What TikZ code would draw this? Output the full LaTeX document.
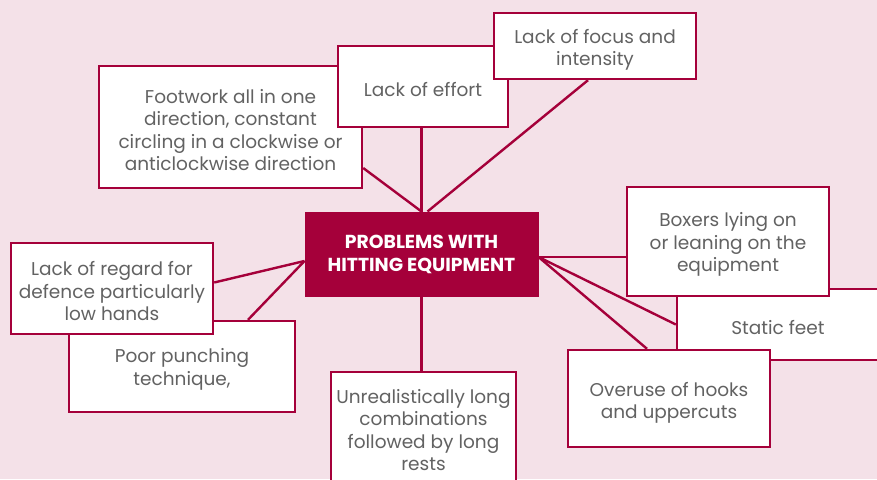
\documentclass[tikz,border=0pt]{standalone}
\usepackage{fontspec}
\setmainfont{Poppins}
\definecolor{bgpink}{HTML}{F4E1E8}
\definecolor{crim}{HTML}{A5003A}
\definecolor{txtgray}{HTML}{626262}
\pgfdeclarelayer{bg}
\pgfsetlayers{bg,main}
\tikzset{
  box/.style={draw=crim, line width=2.4pt, fill=white, inner sep=0pt},
  lbl/.style={text=txtgray, align=center, inner sep=0pt, yshift=-3pt,
    font=\fontsize{18.5}{22.5}\selectfont},
  hub/.style={fill=crim, draw=crim, line width=1pt, text=white, align=center,
    inner sep=0pt, font=\fontsize{18.8}{23}\selectfont\bfseries},
  conn/.style={draw=crim, line width=2.4pt}
}
\begin{document}
\begin{tikzpicture}[x=1pt,y=-1pt]
\useasboundingbox (0,0) rectangle (877,479);
\clip (0,0) rectangle (877,479);
\node[hub, minimum width=233pt, minimum height=84pt] (c) at (421.5,254) {\raisebox{-1.5pt}{PROBLEMS WITH}\\\raisebox{-1.5pt}{HITTING EQUIPMENT}};
\node[box, minimum width=226pt, minimum height=91pt, label={[lbl]center:{Poor punching\\technique,}}] (poor) at (182,366.5) {};
\node[box, minimum width=202pt, minimum height=91pt, label={[lbl]center:{Lack of regard for\\defence particularly\\low hands}}] (regard) at (112,288.5) {};
\node[box, minimum width=263pt, minimum height=122pt, label={[lbl]center:{Footwork all in one\\direction, constant\\circling in a clockwise or\\anticlockwise direction}}] (foot) at (230.5,127) {};
\node[box, minimum width=170pt, minimum height=81pt, label={[lbl]center:{Lack of effort}}] (effort) at (423,86.5) {};
\node[box, minimum width=202pt, minimum height=66pt, label={[lbl,yshift=-1pt]center:{Lack of focus and\\intensity}}] (focus) at (595,46) {};
\node[box, minimum width=202pt, minimum height=71pt, label={[lbl]center:{Static feet}}] (static) at (778,324.5) {};
\node[box, minimum width=202pt, minimum height=109pt, label={[lbl]center:{Boxers lying on\\or leaning on the\\equipment}}] (boxers) at (728,241.5) {};
\node[box, minimum width=202pt, minimum height=97pt, label={[lbl,yshift=-1.5pt]center:{Overuse of hooks\\and uppercuts}}] (overuse) at (669,398.5) {};
\node[box, minimum width=185pt, minimum height=116pt, label={[lbl,yshift=3pt]center:{Unrealistically long\\combinations\\followed by long\\rests}}] (unreal) at (423.5,430) {};
\coordinate (r) at ([yshift=-3pt]c.east);
\coordinate (l) at ([yshift=-7pt]c.west);
\begin{pgfonlayer}{bg}
\fill[bgpink] (0,0) rectangle (877,479);
\draw[conn] (c.north) -- ([yshift=-41pt]foot.east);
\draw[conn] (c.north) -- (c.north |- effort.south);
\draw[conn] ([xshift=6pt]c.north) -- ([xshift=-7pt]focus.south);
\draw[conn] (r) -- (r -| boxers.west);
\draw[conn] (r) -- (static.west);
\draw[conn] (r) -- ([xshift=-22pt]overuse.north);
\draw[conn] (c.south) -- (c.south |- unreal.north);
\draw[conn] (l) -- ([yshift=6pt]regard.east);
\draw[conn] (l) -- ([xshift=66pt]poor.north);
\end{pgfonlayer}
\end{tikzpicture}
\end{document}
